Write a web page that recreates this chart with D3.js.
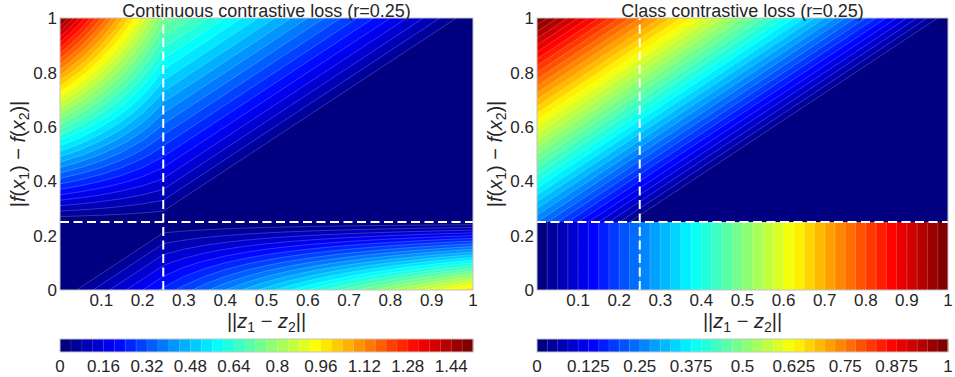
<!DOCTYPE html>
<html>
<head>
<meta charset="utf-8">
<script src="https://cdn.jsdelivr.net/npm/d3@7"></script>
<style>
  body { margin: 0; background: #fff; }
  svg { display: block; font-family: "Liberation Sans", Arial, Helvetica, sans-serif; }
</style>
</head>
<body>
<svg id="chart" width="955" height="377"></svg>
<script>
// threshold on |f(x1) - f(x2)|
const r = 0.25;

// sample positions of ||z1 - z2|| (columns) and |f(x1) - f(x2)| (rows)
const dSamples = [0, 0.05, 0.1, 0.15, 0.2, 0.25, 0.3, 0.35, 0.4, 0.45, 0.5, 0.55, 0.6, 0.65, 0.7, 0.75, 0.8, 0.85, 0.9, 0.95, 1];
const ySamples = [0, 0.05, 0.1, 0.15, 0.2, 0.25, 0.3, 0.35, 0.4, 0.45, 0.5, 0.55, 0.6, 0.65, 0.7, 0.75, 0.8, 0.85, 0.9, 0.95, 1];
const ySamplesAbove = [0.25, 0.3, 0.35, 0.4, 0.45, 0.5, 0.55, 0.6, 0.65, 0.7, 0.75, 0.8, 0.85, 0.9, 0.95, 1];
const ySamplesBelow = [0, 0.05, 0.1, 0.15, 0.2, 0.25];

// continuous contrastive loss, one row per ySamples value (bottom to top)
const continuousLoss = [
  [0, 0.05, 0.1, 0.15, 0.2, 0.25, 0.3, 0.35, 0.4, 0.45, 0.5, 0.55, 0.6, 0.65, 0.7, 0.75, 0.8, 0.85, 0.9, 0.95, 1],
  [0, 0, 0.05, 0.1, 0.15, 0.2, 0.24, 0.28, 0.32, 0.36, 0.4, 0.44, 0.48, 0.52, 0.56, 0.6, 0.64, 0.68, 0.72, 0.76, 0.8],
  [0, 0, 0, 0.05, 0.1, 0.15, 0.18, 0.21, 0.24, 0.27, 0.3, 0.33, 0.36, 0.39, 0.42, 0.45, 0.48, 0.51, 0.54, 0.57, 0.6],
  [0, 0, 0, 0, 0.05, 0.1, 0.12, 0.14, 0.16, 0.18, 0.2, 0.22, 0.24, 0.26, 0.28, 0.3, 0.32, 0.34, 0.36, 0.38, 0.4],
  [0, 0, 0, 0, 0, 0.05, 0.06, 0.07, 0.08, 0.09, 0.1, 0.11, 0.12, 0.13, 0.14, 0.15, 0.16, 0.17, 0.18, 0.19, 0.2],
  [0, 0, 0, 0, 0, 0, 0, 0, 0, 0, 0, 0, 0, 0, 0, 0, 0, 0, 0, 0, 0],
  [0.1, 0.09, 0.08, 0.07, 0.06, 0.05, 0, 0, 0, 0, 0, 0, 0, 0, 0, 0, 0, 0, 0, 0, 0],
  [0.2, 0.18, 0.16, 0.14, 0.12, 0.1, 0.05, 0, 0, 0, 0, 0, 0, 0, 0, 0, 0, 0, 0, 0, 0],
  [0.3, 0.27, 0.24, 0.21, 0.18, 0.15, 0.1, 0.05, 0, 0, 0, 0, 0, 0, 0, 0, 0, 0, 0, 0, 0],
  [0.4, 0.36, 0.32, 0.28, 0.24, 0.2, 0.15, 0.1, 0.05, 0, 0, 0, 0, 0, 0, 0, 0, 0, 0, 0, 0],
  [0.5, 0.45, 0.4, 0.35, 0.3, 0.25, 0.2, 0.15, 0.1, 0.05, 0, 0, 0, 0, 0, 0, 0, 0, 0, 0, 0],
  [0.6, 0.54, 0.48, 0.42, 0.36, 0.3, 0.25, 0.2, 0.15, 0.1, 0.05, 0, 0, 0, 0, 0, 0, 0, 0, 0, 0],
  [0.7, 0.63, 0.56, 0.49, 0.42, 0.35, 0.3, 0.25, 0.2, 0.15, 0.1, 0.05, 0, 0, 0, 0, 0, 0, 0, 0, 0],
  [0.8, 0.72, 0.64, 0.56, 0.48, 0.4, 0.35, 0.3, 0.25, 0.2, 0.15, 0.1, 0.05, 0, 0, 0, 0, 0, 0, 0, 0],
  [0.9, 0.81, 0.72, 0.63, 0.54, 0.45, 0.4, 0.35, 0.3, 0.25, 0.2, 0.15, 0.1, 0.05, 0, 0, 0, 0, 0, 0, 0],
  [1, 0.9, 0.8, 0.7, 0.6, 0.5, 0.45, 0.4, 0.35, 0.3, 0.25, 0.2, 0.15, 0.1, 0.05, 0, 0, 0, 0, 0, 0],
  [1.1, 0.99, 0.88, 0.77, 0.66, 0.55, 0.5, 0.45, 0.4, 0.35, 0.3, 0.25, 0.2, 0.15, 0.1, 0.05, 0, 0, 0, 0, 0],
  [1.2, 1.08, 0.96, 0.84, 0.72, 0.6, 0.55, 0.5, 0.45, 0.4, 0.35, 0.3, 0.25, 0.2, 0.15, 0.1, 0.05, 0, 0, 0, 0],
  [1.3, 1.17, 1.04, 0.91, 0.78, 0.65, 0.6, 0.55, 0.5, 0.45, 0.4, 0.35, 0.3, 0.25, 0.2, 0.15, 0.1, 0.05, 0, 0, 0],
  [1.4, 1.26, 1.12, 0.98, 0.84, 0.7, 0.65, 0.6, 0.55, 0.5, 0.45, 0.4, 0.35, 0.3, 0.25, 0.2, 0.15, 0.1, 0.05, 0, 0],
  [1.5, 1.35, 1.2, 1.05, 0.9, 0.75, 0.7, 0.65, 0.6, 0.55, 0.5, 0.45, 0.4, 0.35, 0.3, 0.25, 0.2, 0.15, 0.1, 0.05, 0]
];

// class contrastive loss above r, one row per ySamplesAbove value
const classLossAbove = [
  [0.25, 0.2, 0.15, 0.1, 0.05, 0, 0, 0, 0, 0, 0, 0, 0, 0, 0, 0, 0, 0, 0, 0, 0],
  [0.3, 0.25, 0.2, 0.15, 0.1, 0.05, 0, 0, 0, 0, 0, 0, 0, 0, 0, 0, 0, 0, 0, 0, 0],
  [0.35, 0.3, 0.25, 0.2, 0.15, 0.1, 0.05, 0, 0, 0, 0, 0, 0, 0, 0, 0, 0, 0, 0, 0, 0],
  [0.4, 0.35, 0.3, 0.25, 0.2, 0.15, 0.1, 0.05, 0, 0, 0, 0, 0, 0, 0, 0, 0, 0, 0, 0, 0],
  [0.45, 0.4, 0.35, 0.3, 0.25, 0.2, 0.15, 0.1, 0.05, 0, 0, 0, 0, 0, 0, 0, 0, 0, 0, 0, 0],
  [0.5, 0.45, 0.4, 0.35, 0.3, 0.25, 0.2, 0.15, 0.1, 0.05, 0, 0, 0, 0, 0, 0, 0, 0, 0, 0, 0],
  [0.55, 0.5, 0.45, 0.4, 0.35, 0.3, 0.25, 0.2, 0.15, 0.1, 0.05, 0, 0, 0, 0, 0, 0, 0, 0, 0, 0],
  [0.6, 0.55, 0.5, 0.45, 0.4, 0.35, 0.3, 0.25, 0.2, 0.15, 0.1, 0.05, 0, 0, 0, 0, 0, 0, 0, 0, 0],
  [0.65, 0.6, 0.55, 0.5, 0.45, 0.4, 0.35, 0.3, 0.25, 0.2, 0.15, 0.1, 0.05, 0, 0, 0, 0, 0, 0, 0, 0],
  [0.7, 0.65, 0.6, 0.55, 0.5, 0.45, 0.4, 0.35, 0.3, 0.25, 0.2, 0.15, 0.1, 0.05, 0, 0, 0, 0, 0, 0, 0],
  [0.75, 0.7, 0.65, 0.6, 0.55, 0.5, 0.45, 0.4, 0.35, 0.3, 0.25, 0.2, 0.15, 0.1, 0.05, 0, 0, 0, 0, 0, 0],
  [0.8, 0.75, 0.7, 0.65, 0.6, 0.55, 0.5, 0.45, 0.4, 0.35, 0.3, 0.25, 0.2, 0.15, 0.1, 0.05, 0, 0, 0, 0, 0],
  [0.85, 0.8, 0.75, 0.7, 0.65, 0.6, 0.55, 0.5, 0.45, 0.4, 0.35, 0.3, 0.25, 0.2, 0.15, 0.1, 0.05, 0, 0, 0, 0],
  [0.9, 0.85, 0.8, 0.75, 0.7, 0.65, 0.6, 0.55, 0.5, 0.45, 0.4, 0.35, 0.3, 0.25, 0.2, 0.15, 0.1, 0.05, 0, 0, 0],
  [0.95, 0.9, 0.85, 0.8, 0.75, 0.7, 0.65, 0.6, 0.55, 0.5, 0.45, 0.4, 0.35, 0.3, 0.25, 0.2, 0.15, 0.1, 0.05, 0, 0],
  [1, 0.95, 0.9, 0.85, 0.8, 0.75, 0.7, 0.65, 0.6, 0.55, 0.5, 0.45, 0.4, 0.35, 0.3, 0.25, 0.2, 0.15, 0.1, 0.05, 0]
];

// class contrastive loss below r: same for every row
const classLossBelow = [0, 0.05, 0.1, 0.15, 0.2, 0.25, 0.3, 0.35, 0.4, 0.45, 0.5, 0.55, 0.6, 0.65, 0.7, 0.75, 0.8, 0.85, 0.9, 0.95, 1];

const xTicks = [0.1, 0.2, 0.3, 0.4, 0.5, 0.6, 0.7, 0.8, 0.9, 1];
const yTicks = [0, 0.2, 0.4, 0.6, 0.8, 1];
const continuousBarTicks = [0, 0.16, 0.32, 0.48, 0.64, 0.8, 0.96, 1.12, 1.28, 1.44];
const classBarTicks = [0, 0.125, 0.25, 0.375, 0.5, 0.625, 0.75, 0.875, 1];

// contour levels
const continuousStep = 0.04, continuousBands = 38;
const classStep = 0.025, classBands = 40;

const svg = d3.select('#chart');
const textColor = '#262626';
const plotTop = 18, plotBottom = 290;
const barTop = 339, barHeight = 13;
const tickSize = 17;
const labelSize = 20;

function jet(t) {
  const c = v => Math.max(0, Math.min(1, v));
  const red = c(1.5 - Math.abs(4 * t - 3));
  const green = c(1.5 - Math.abs(4 * t - 2));
  const blue = c(1.5 - Math.abs(4 * t - 1));
  return d3.rgb(red * 255, green * 255, blue * 255).formatHex();
}

function mathLabel(sel, parts, size) {
  parts.forEach(p => {
    const ts = sel.append('tspan').text(p.t);
    if (p.i) ts.attr('font-style', 'italic');
    if (p.sub) ts.attr('dy', size * 0.22).attr('font-size', size * 0.7);
    if (p.after) ts.attr('dy', -size * 0.22);
  });
}

function drawPanel(p) {
  const x = d3.scaleLinear().domain([0, 1]).range([p.left, p.right]);
  const y = d3.scaleLinear().domain([0, 1]).range([plotBottom, plotTop]);
  const levels = d3.range(p.bands).map(k => +(k * p.step).toFixed(4));
  const color = k => jet(k / (p.bands - 1));
  const g = svg.append('g');

  p.layers.forEach((layer, li) => {
    const clipId = `${p.id}-clip-${li}`;
    svg.append('clipPath').attr('id', clipId)
      .append('rect')
      .attr('x', x(0))
      .attr('y', y(layer.span[1]))
      .attr('width', x(1) - x(0))
      .attr('height', y(layer.span[0]) - y(layer.span[1]));

    const nx = dSamples.length, ny = layer.ys.length;
    const gx = d3.scaleLinear().domain([0.5, nx - 0.5]).range([x(dSamples[0]), x(dSamples[nx - 1])]);
    const gy = d3.scaleLinear().domain([0.5, ny - 0.5]).range([y(layer.ys[0]), y(layer.ys[ny - 1])]);
    const path = d3.geoPath(d3.geoTransform({
      point(px, py) { this.stream.point(gx(px), gy(py)); }
    }));
    const bands = d3.contours().size([nx, ny]).thresholds(levels)(layer.rows.flat());

    g.append('g')
      .attr('clip-path', `url(#${clipId})`)
      .selectAll('path')
      .data(bands)
      .join('path')
      .attr('d', path)
      .attr('fill', (d, i) => color(i))
      .attr('stroke', 'rgba(255,255,255,0.4)')
      .attr('stroke-width', 0.5);
  });

  // threshold lines
  g.append('line')
    .attr('x1', x(r)).attr('x2', x(r))
    .attr('y1', y(0)).attr('y2', y(1))
    .attr('stroke', '#fff').attr('stroke-width', 2)
    .attr('stroke-dasharray', '9,4.5');
  g.append('line')
    .attr('x1', x(0)).attr('x2', x(1))
    .attr('y1', y(r)).attr('y2', y(r))
    .attr('stroke', '#fff').attr('stroke-width', 2)
    .attr('stroke-dasharray', '9,4.5');

  g.append('rect')
    .attr('x', x(0)).attr('y', y(1))
    .attr('width', x(1) - x(0)).attr('height', y(0) - y(1))
    .attr('fill', 'none').attr('stroke', '#c4c4c4').attr('stroke-width', 1);

  // tick labels
  g.selectAll('.xt').data(xTicks).join('text')
    .attr('x', d => x(d)).attr('y', 306)
    .attr('text-anchor', 'middle').attr('font-size', tickSize).attr('fill', textColor)
    .text(d3.format('~g'));
  g.selectAll('.yt').data(yTicks).join('text')
    .attr('x', x(0) - 3).attr('y', d => y(d)).attr('dy', '0.36em')
    .attr('text-anchor', 'end').attr('font-size', tickSize).attr('fill', textColor)
    .text(d3.format('~g'));

  // title
  g.append('text')
    .attr('x', (p.left + p.right) / 2).attr('y', 16.5)
    .attr('text-anchor', 'middle').attr('font-size', 18).attr('fill', textColor)
    .text(p.title);

  // axis labels
  const xl = g.append('text')
    .attr('x', (p.left + p.right) / 2).attr('y', 328)
    .attr('text-anchor', 'middle').attr('font-size', labelSize).attr('fill', textColor);
  mathLabel(xl, [
    { t: '||' }, { t: 'z', i: true }, { t: '1', sub: true }, { t: ' \u2212 ', after: true },
    { t: 'z', i: true }, { t: '2', sub: true }, { t: '||', after: true }
  ], labelSize);

  const yl = g.append('text')
    .attr('transform', `translate(${p.left - 35},${(plotTop + plotBottom) / 2}) rotate(-90)`)
    .attr('text-anchor', 'middle').attr('font-size', labelSize).attr('fill', textColor);
  mathLabel(yl, [
    { t: '|' }, { t: 'f', i: true }, { t: '(' }, { t: 'x', i: true }, { t: '1', sub: true },
    { t: ')', after: true }, { t: ' \u2212 ' }, { t: 'f', i: true }, { t: '(' }, { t: 'x', i: true },
    { t: '2', sub: true }, { t: ')|', after: true }
  ], labelSize);

  // colour bar
  const cb = d3.scaleLinear().domain([0, p.bands * p.step]).range([p.left, p.right]);
  g.selectAll('.cb').data(levels).join('rect')
    .attr('x', d => cb(d))
    .attr('y', barTop)
    .attr('width', cb(p.step) - cb(0) + 0.3)
    .attr('height', barHeight)
    .attr('fill', (d, i) => color(i));
  g.selectAll('.cbs').data(levels.slice(1)).join('line')
    .attr('x1', d => cb(d)).attr('x2', d => cb(d))
    .attr('y1', barTop).attr('y2', barTop + barHeight)
    .attr('stroke', 'rgba(255,255,255,0.25)').attr('stroke-width', 0.5);
  g.append('rect')
    .attr('x', cb(0)).attr('y', barTop)
    .attr('width', cb.range()[1] - cb.range()[0]).attr('height', barHeight)
    .attr('fill', 'none').attr('stroke', '#c4c4c4').attr('stroke-width', 1);
  g.selectAll('.cbt').data(p.barTicks).join('text')
    .attr('x', d => cb(d)).attr('y', 372)
    .attr('text-anchor', 'middle').attr('font-size', tickSize).attr('fill', textColor)
    .text(d3.format('~g'));
}

drawPanel({
  id: 'continuous',
  title: 'Continuous contrastive loss (r=0.25)',
  left: 60, right: 473,
  step: continuousStep, bands: continuousBands,
  barTicks: continuousBarTicks,
  layers: [{ rows: continuousLoss, ys: ySamples, span: [0, 1] }]
});

drawPanel({
  id: 'class',
  title: 'Class contrastive loss (r=0.25)',
  left: 537, right: 948,
  step: classStep, bands: classBands,
  barTicks: classBarTicks,
  layers: [
    { rows: classLossAbove, ys: ySamplesAbove, span: [r, 1] },
    { rows: ySamplesBelow.map(() => classLossBelow), ys: ySamplesBelow, span: [0, r] }
  ]
});
</script>
</body>
</html>
